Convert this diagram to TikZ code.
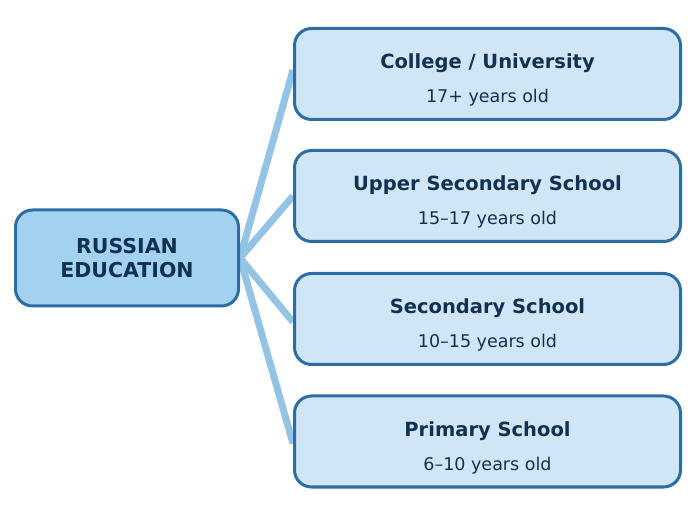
\documentclass[tikz,border=0pt]{standalone}
\usepackage{fontspec}
\setmainfont{DejaVu Sans}
\usetikzlibrary{backgrounds}
\definecolor{edge}{HTML}{2E6DA4}
\definecolor{rootfill}{HTML}{A3D1F0}
\definecolor{levelfill}{HTML}{D0E6F7}
\definecolor{ink}{HTML}{12304F}
\definecolor{branch}{HTML}{93C4E6}
\tikzstyle{root}=[rectangle, rounded corners=17pt, draw=edge, fill=rootfill, line width=3pt, minimum width=223pt, minimum height=96pt, inner sep=0pt, align=center, text=ink, font=\fontsize{20.5}{24}\selectfont\bfseries]
\tikzstyle{level}=[rectangle, rounded corners=17pt, draw=edge, fill=levelfill, line width=3pt, minimum width=386pt, minimum height=91pt, inner sep=0pt, align=center, text=ink, font=\fontsize{17.5}{22}\selectfont]
\tikzstyle{branch}=[draw=branch, line width=7pt]
\newcommand{\lvl}[2]{\rule{0pt}{30pt}\raisebox{3pt}{\textbf{\fontsize{19.5}{22}\selectfont #1}}\\[9pt]#2}

\begin{document}
\begin{tikzpicture}[x=1pt, y=1pt]
                    \useasboundingbox (0, 0) rectangle (696, 506);
                    \node[root]  (ru) at (127, 248) {RUSSIAN\\EDUCATION};
                    \node[level] (l1) at (487.5, 432) {\lvl{College / University}{17+ years old}};
                    \node[level] (l2) at (487.5, 310) {\lvl{Upper Secondary School}{15–17 years old}};
                    \node[level] (l3) at (487.5, 187) {\lvl{Secondary School}{10–15 years old}};
                    \node[level] (l4) at (487.5, 64.5) {\lvl{Primary School}{6–10 years old}};
                    \begin{scope}[on background layer]
                    \draw[branch]  (ru.east) -- ([yshift=4pt]l1.west);
                    \draw[branch]  (ru.east) -- (l2.west);
                    \draw[branch]  (ru.east) -- ([yshift=-3pt]l3.west);
                    \draw[branch]  (ru.east) -- ([yshift=-2pt]l4.west);
                    \end{scope}
                \end{tikzpicture}
\end{document}
